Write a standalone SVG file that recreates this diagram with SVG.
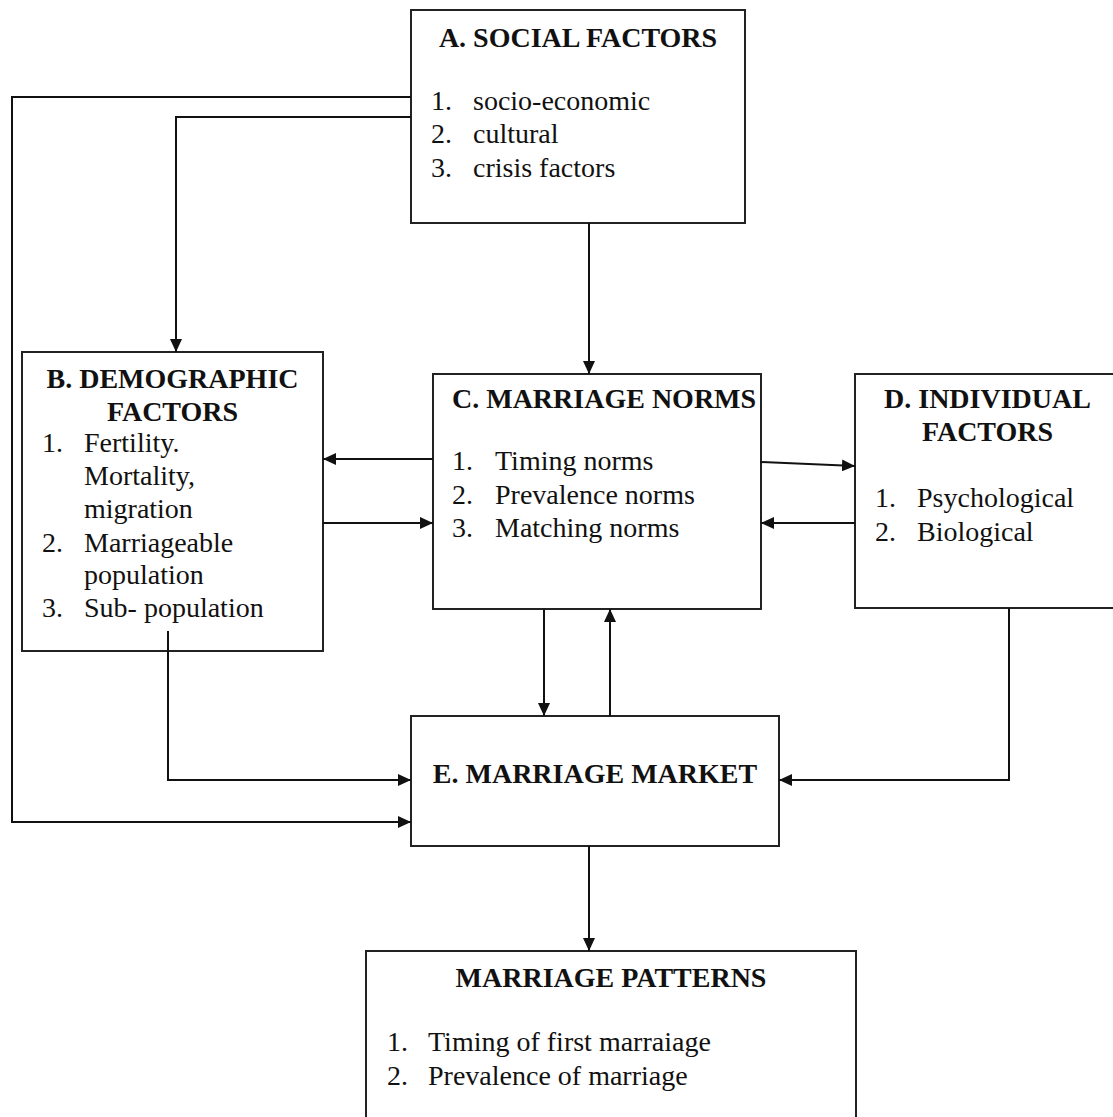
<svg xmlns="http://www.w3.org/2000/svg" width="1113" height="1117" viewBox="0 0 1113 1117">
<style>
.box{fill:#fff;stroke:#222;stroke-width:2}
.t{font-family:"Liberation Serif","Times New Roman",serif;font-size:28px;fill:#111}
.b{font-weight:bold}
.c{text-anchor:middle}
.ln{fill:none;stroke:#111;stroke-width:2}
</style>
<defs>
<marker id="ah" markerUnits="userSpaceOnUse" markerWidth="13" markerHeight="12" refX="13" refY="6" orient="auto">
<path d="M0,0 L13,6 L0,12 z" fill="#111"/>
</marker>
</defs>
<rect width="1113" height="1117" fill="#fff"/>
<g id="A">
<rect class="box" x="411" y="10" width="334" height="213"/>
<text class="t b c" x="578" y="47">A. SOCIAL FACTORS</text>
<text class="t" x="431" y="110">1.</text><text class="t" x="473" y="110">socio-economic</text>
<text class="t" x="431" y="143">2.</text><text class="t" x="473" y="143">cultural</text>
<text class="t" x="431" y="177">3.</text><text class="t" x="473" y="177">crisis factors</text>
</g>
<g id="B">
<rect class="box" x="22" y="352" width="301" height="299"/>
<text class="t b c" x="172.5" y="388">B. DEMOGRAPHIC</text>
<text class="t b c" x="172.5" y="421">FACTORS</text>
<text class="t" x="42" y="452">1.</text><text class="t" x="84" y="452">Fertility.</text>
<text class="t" x="84" y="485">Mortality,</text>
<text class="t" x="84" y="518">migration</text>
<text class="t" x="42" y="552">2.</text><text class="t" x="84" y="552">Marriageable</text>
<text class="t" x="84" y="584">population</text>
<text class="t" x="42" y="617">3.</text><text class="t" x="84" y="617">Sub- population</text>
</g>
<g id="C">
<rect class="box" x="433" y="374" width="328" height="235"/>
<text class="t b" x="452" y="408">C. MARRIAGE NORMS</text>
<text class="t" x="452" y="470">1.</text><text class="t" x="495" y="470">Timing norms</text>
<text class="t" x="452" y="504">2.</text><text class="t" x="495" y="504">Prevalence norms</text>
<text class="t" x="452" y="537">3.</text><text class="t" x="495" y="537">Matching norms</text>
</g>
<g id="D">
<rect class="box" x="855" y="374" width="265" height="234"/>
<text class="t b c" x="987.5" y="408">D. INDIVIDUAL</text>
<text class="t b c" x="987.5" y="441">FACTORS</text>
<text class="t" x="875" y="507">1.</text><text class="t" x="917" y="507">Psychological</text>
<text class="t" x="875" y="541">2.</text><text class="t" x="917" y="541">Biological</text>
</g>
<g id="E">
<rect class="box" x="411" y="716" width="368" height="130"/>
<text class="t b c" x="595" y="783">E. MARRIAGE MARKET</text>
</g>
<g id="P">
<rect class="box" x="366" y="951" width="490" height="180"/>
<text class="t b c" x="611" y="987">MARRIAGE PATTERNS</text>
<text class="t" x="387" y="1051">1.</text><text class="t" x="428" y="1051">Timing of first marraiage</text>
<text class="t" x="387" y="1085">2.</text><text class="t" x="428" y="1085">Prevalence of marriage</text>
</g>
<g id="connectors">
<path class="ln" d="M411,97 H12 V822 H411" marker-end="url(#ah)"/>
<path class="ln" d="M411,117 H176 V352" marker-end="url(#ah)"/>
<path class="ln" d="M589,223 V374" marker-end="url(#ah)"/>
<path class="ln" d="M433,459 H323" marker-end="url(#ah)"/>
<path class="ln" d="M323,523 H433" marker-end="url(#ah)"/>
<path class="ln" d="M760,462 L855,466" marker-end="url(#ah)"/>
<path class="ln" d="M855,523 H761" marker-end="url(#ah)"/>
<path class="ln" d="M544,609 V716" marker-end="url(#ah)"/>
<path class="ln" d="M610,716 V609" marker-end="url(#ah)"/>
<path class="ln" d="M168,631 V780 H411" marker-end="url(#ah)"/>
<path class="ln" d="M1009,608 V780 H779" marker-end="url(#ah)"/>
<path class="ln" d="M589,846 V951" marker-end="url(#ah)"/>
</g>
</svg>
